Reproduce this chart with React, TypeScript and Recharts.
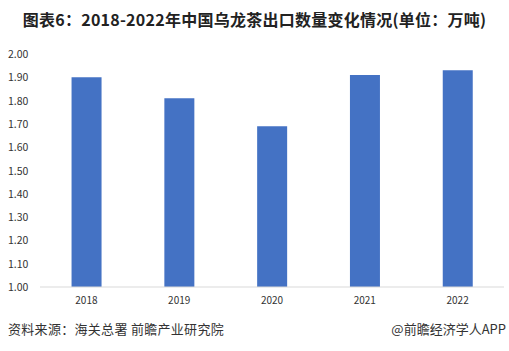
import React from 'react';
import { BarChart, Bar, XAxis, YAxis } from 'recharts';

// 2018-2022 oolong tea export volume (10k tonnes)
const years = ['2018', '2019', '2020', '2021', '2022'];
const volumes = [1.90, 1.81, 1.69, 1.91, 1.93];
const yTicks = [1.0, 1.1, 1.2, 1.3, 1.4, 1.5, 1.6, 1.7, 1.8, 1.9, 2.0];

const data = years.map((y, i) => ({ year: y, value: volumes[i] }));

const FONT = '"Microsoft YaHei", "Noto Sans CJK SC", sans-serif';

const YTick = (props: any) => {
  const { y, payload } = props;
  return (
    <text x={8} y={y} dy={4} textAnchor="start" fontSize={10.5} fill="#333" fontFamily={FONT}>
      {Number(payload.value).toFixed(2)}
    </text>
  );
};

export default function App() {
  return (
    <div style={{ position: 'absolute', left: 0, top: 0, width: 509, height: 351, background: '#fff', fontFamily: FONT }}>
      <div style={{ position: 'absolute', left: 0, top: 7, width: 509, textAlign: 'center', fontSize: 16, fontWeight: 'bold', color: '#222', letterSpacing: 0.25, whiteSpace: 'nowrap' }}>
        图表6：2018-2022年中国乌龙茶出口数量变化情况(单位：万吨)
      </div>
      <div style={{ position: 'absolute', left: 0, top: 40 }}>
        <BarChart width={509} height={270} data={data} margin={{ top: 14, right: 5, bottom: 0, left: 0 }} barCategoryGap="34%">
          <XAxis
            dataKey="year"
            axisLine={{ stroke: '#d9d9d9' }}
            tickLine={false}
            tick={{ fontSize: 10, fill: '#333', fontFamily: FONT }}
            tickMargin={4}
            height={23}
          />
          <YAxis
            domain={[1, 2]}
            ticks={yTicks}
            axisLine={false}
            tickLine={false}
            width={40}
            tick={<YTick />}
            interval={0}
          />
          <Bar dataKey="value" fill="#4472C4" isAnimationActive={false} />
        </BarChart>
      </div>
      <div style={{ position: 'absolute', left: 8, top: 319, fontSize: 13, color: '#333', letterSpacing: 0.3 }}>
        资料来源：海关总署 前瞻产业研究院
      </div>
      <div style={{ position: 'absolute', right: 3, top: 319, fontSize: 13, color: '#333' }}>
        @前瞻经济学人APP
      </div>
    </div>
  );
}
